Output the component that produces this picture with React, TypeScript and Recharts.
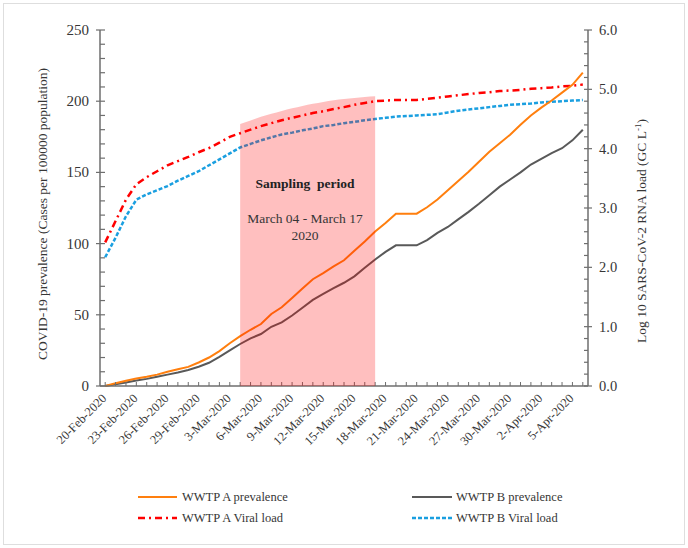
import React from 'react';
import { ComposedChart, Line, Area, XAxis, YAxis } from 'recharts';

// daily series, day 0 = 20-Feb-2020, day 46 = 6-Apr-2020
const prevalenceA = [0, 2, 3.7, 5.3, 6.5, 8, 10, 11.8, 13.4, 16.5, 20, 24.5, 30, 35, 39.5, 43.5, 50.6, 55.3, 61.8, 68.5, 75, 79.3, 84, 88.3, 95, 101.5, 108.5, 114.5, 121, 121, 121, 125.5, 131, 137.5, 144, 150.5, 157.5, 164.5, 170.5, 176.5, 183.5, 190, 195.5, 200.5, 206, 211.5, 220];
const prevalenceB = [0, 1.2, 2.5, 3.8, 5, 6.5, 8, 9.5, 11.2, 13.5, 16.3, 20.5, 25, 29.5, 33.5, 36.5, 41.6, 44.7, 49.5, 55, 60.5, 64.7, 68.7, 72.5, 77, 83, 88.8, 94.2, 98.8, 98.8, 98.8, 102.5, 107.5, 111.7, 117, 122.3, 128, 134, 140, 145, 150, 155.5, 159.5, 163.5, 167, 172.5, 180];
const viralLoadA = [2.42, 2.78, 3.14, 3.40, 3.52, 3.62, 3.72, 3.79, 3.86, 3.94, 4.01, 4.10, 4.20, 4.26, 4.32, 4.38, 4.43, 4.48, 4.52, 4.56, 4.60, 4.63, 4.67, 4.70, 4.74, 4.77, 4.80, 4.81, 4.82, 4.82, 4.82, 4.84, 4.86, 4.88, 4.90, 4.92, 4.94, 4.95, 4.97, 4.98, 4.99, 5.01, 5.02, 5.03, 5.05, 5.06, 5.08];
const viralLoadB = [2.17, 2.50, 2.86, 3.14, 3.23, 3.30, 3.37, 3.46, 3.54, 3.62, 3.72, 3.82, 3.92, 4.02, 4.08, 4.14, 4.19, 4.24, 4.27, 4.31, 4.34, 4.38, 4.40, 4.43, 4.45, 4.48, 4.50, 4.52, 4.54, 4.55, 4.56, 4.57, 4.58, 4.61, 4.64, 4.66, 4.68, 4.70, 4.72, 4.74, 4.75, 4.76, 4.78, 4.79, 4.80, 4.81, 4.82];

// sampling period band (4-Mar .. 17-Mar), top edge in left-axis units
const samplingStart = 13;
const samplingTop = [184, 186.5, 189, 191.2, 193.2, 195, 196.7, 198.2, 199.5, 200.6, 201.5, 202.3, 203, 203.5];

const xTickDays = [0, 3, 6, 9, 12, 15, 18, 21, 24, 27, 30, 33, 36, 39, 42, 45];
const xTickLabels = ['20-Feb-2020', '23-Feb-2020', '26-Feb-2020', '29-Feb-2020', '3-Mar-2020', '6-Mar-2020', '9-Mar-2020', '12-Mar-2020', '15-Mar-2020', '18-Mar-2020', '21-Mar-2020', '24-Mar-2020', '27-Mar-2020', '30-Mar-2020', '2-Apr-2020', '5-Apr-2020'];

const leftTicks = Array.from({ length: 26 }, (_, i) => i * 10);
const rightTicks = Array.from({ length: 31 }, (_, i) => +(i * 0.2).toFixed(1));

const FONT = '"Liberation Serif", "Times New Roman", serif';
const TEXT = '#363636';
const AXIS = '#6e6e6e';
const W = 688;
const H = 548;
const MARGIN = { top: 30, right: 0, bottom: 102, left: 0 };

const rows = prevalenceA.map((a, i) => {
  const s = i - samplingStart;
  return {
    day: i,
    prevA: a,
    prevB: prevalenceB[i],
    vlA: viralLoadA[i],
    vlB: viralLoadB[i],
    shade: s >= 0 && s < samplingTop.length ? samplingTop[s] : undefined,
  };
});

function XTick(props: any) {
  const { x, y, payload } = props;
  const k = xTickDays.indexOf(payload.value);
  return (
    <g>
      <line x1={x} x2={x} y1={y} y2={y - 4} stroke={AXIS} strokeWidth={1} />
      {k >= 0 && (
        <text x={x + 2} y={y + 13} textAnchor="end" fontSize={12.5} fontFamily={FONT} fill={TEXT}
          transform={`rotate(-45, ${x + 2}, ${y + 13})`}>
          {xTickLabels[k]}
        </text>
      )}
    </g>
  );
}

function LeftTick(props: any) {
  const { x, y, payload } = props;
  const major = payload.value % 50 === 0;
  return (
    <g>
      <line x1={major ? x - 4 : x} x2={x + 5} y1={y} y2={y} stroke={AXIS} strokeWidth={1.2} />
      {major && (
        <text x={x - 11} y={y + 5} textAnchor="end" fontSize={15} fontFamily={FONT} fill={TEXT}>{payload.value}</text>
      )}
    </g>
  );
}

function RightTick(props: any) {
  const { x, y, payload } = props;
  const v = payload.value;
  const major = Math.abs(v - Math.round(v)) < 1e-6;
  return (
    <g>
      <line x1={x - 4} x2={major ? x + 4 : x} y1={y} y2={y} stroke={AXIS} strokeWidth={1.2} />
      {major && (
        <text x={x + 11} y={y + 5} textAnchor="start" fontSize={14.5} fontFamily={FONT} fill={TEXT}>{v.toFixed(1)}</text>
      )}
    </g>
  );
}

function Overlay() {
  return (
    <svg width={W} height={H} style={{ position: 'absolute', left: 0, top: 0, pointerEvents: 'none' }}
      fontFamily={FONT}>
      <text x={305} y={188} textAnchor="middle" fontSize={13.5} fontWeight="bold" fill="#222">Sampling{'\u00a0\u00a0'}period</text>
      <text x={305} y={223} textAnchor="middle" fontSize={13.5} fill={TEXT}>March 04 - March 17</text>
      <text x={305} y={240} textAnchor="middle" fontSize={13.5} fill={TEXT}>2020</text>

      <text transform="translate(47, 214) rotate(-90)" textAnchor="middle" fontSize={13.5} fill={TEXT}>
        COVID-19 prevalence (Cases per 100000 population)
      </text>
      <text transform="translate(646, 231) rotate(-90)" textAnchor="middle" fontSize={13.5} fill={TEXT}>
        Log 10 SARS-CoV-2 RNA load (GC L<tspan dy={-5} fontSize={9}>-1</tspan><tspan dy={5}>)</tspan>
      </text>

      <line x1={138} x2={177} y1={497} y2={497} stroke="#ff7f0e" strokeWidth={2} />
      <text x={182} y={501} fontSize={12.5} fill={TEXT}>WWTP A prevalence</text>
      <line x1={138} x2={177} y1={518} y2={518} stroke="#ff0000" strokeWidth={2.5} strokeDasharray="7 4 2 4" />
      <text x={182} y={522} fontSize={12.5} fill={TEXT}>WWTP A Viral load</text>
      <line x1={412} x2={452} y1={497} y2={497} stroke="#595959" strokeWidth={2} />
      <text x={456} y={501} fontSize={12.5} fill={TEXT}>WWTP B prevalence</text>
      <line x1={412} x2={452} y1={518} y2={518} stroke="#1a9fe0" strokeWidth={2.5} strokeDasharray="4 2" />
      <text x={456} y={522} fontSize={12.5} fill={TEXT}>WWTP B Viral load</text>
    </svg>
  );
}

export default function App() {
  return (
    <div style={{ position: 'absolute', left: 0, top: 0, width: W, height: H, background: '#fff' }}>
      <div style={{ position: 'absolute', left: 3, top: 3, width: 682, height: 542, boxSizing: 'border-box', border: '1px solid #dedede' }} />
      <div style={{ position: 'absolute', left: 0, top: 0 }}>
        <ComposedChart width={W} height={H} data={rows} margin={MARGIN}>
          <XAxis dataKey="day" type="number" domain={[-0.5, 46.5]} ticks={rows.map(r => r.day)} interval={0}
            height={60} tickSize={0} tickMargin={0} tickLine={false} tick={(p: any) => <XTick {...p} />}
            axisLine={{ stroke: AXIS, strokeWidth: 1.5 }} allowDataOverflow />
          <YAxis yAxisId="left" orientation="left" width={100} domain={[0, 250]} ticks={leftTicks} interval={0}
            tickSize={0} tickMargin={0} tickLine={false} tick={(p: any) => <LeftTick {...p} />}
            axisLine={{ stroke: AXIS, strokeWidth: 1.5 }} />
          <YAxis yAxisId="right" orientation="right" width={100} domain={[0, 6]} ticks={rightTicks} interval={0}
            tickSize={0} tickMargin={0} tickLine={false} tick={(p: any) => <RightTick {...p} />}
            axisLine={{ stroke: AXIS, strokeWidth: 1.5 }} />
          <Line yAxisId="right" dataKey="vlB" stroke="#1a9fe0" strokeWidth={2.5} strokeDasharray="4 2" dot={false} isAnimationActive={false} />
          <Line yAxisId="right" dataKey="vlA" stroke="#ff0000" strokeWidth={2.5} strokeDasharray="7 4 2 4" dot={false} isAnimationActive={false} />
          <Line yAxisId="left" dataKey="prevB" stroke="#595959" strokeWidth={2} dot={false} isAnimationActive={false} />
          <Line yAxisId="left" dataKey="prevA" stroke="#ff7f0e" strokeWidth={2} dot={false} isAnimationActive={false} />
        </ComposedChart>
      </div>
      {/* translucent sampling band laid over the lines, same axes geometry */}
      <div style={{ position: 'absolute', left: 0, top: 0, pointerEvents: 'none' }}>
        <ComposedChart width={W} height={H} data={rows} margin={MARGIN}>
          <XAxis dataKey="day" type="number" domain={[-0.5, 46.5]} height={60} tick={false} tickLine={false} axisLine={false} allowDataOverflow />
          <YAxis yAxisId="left" orientation="left" width={100} domain={[0, 250]} tick={false} tickLine={false} axisLine={false} />
          <YAxis yAxisId="right" orientation="right" width={100} domain={[0, 6]} tick={false} tickLine={false} axisLine={false} />
          <Area yAxisId="left" dataKey="shade" type="monotone" fill="#ff0000" fillOpacity={0.25} stroke="none"
            baseValue={0} dot={false} activeDot={false} isAnimationActive={false} />
        </ComposedChart>
      </div>
      <Overlay />
    </div>
  );
}
